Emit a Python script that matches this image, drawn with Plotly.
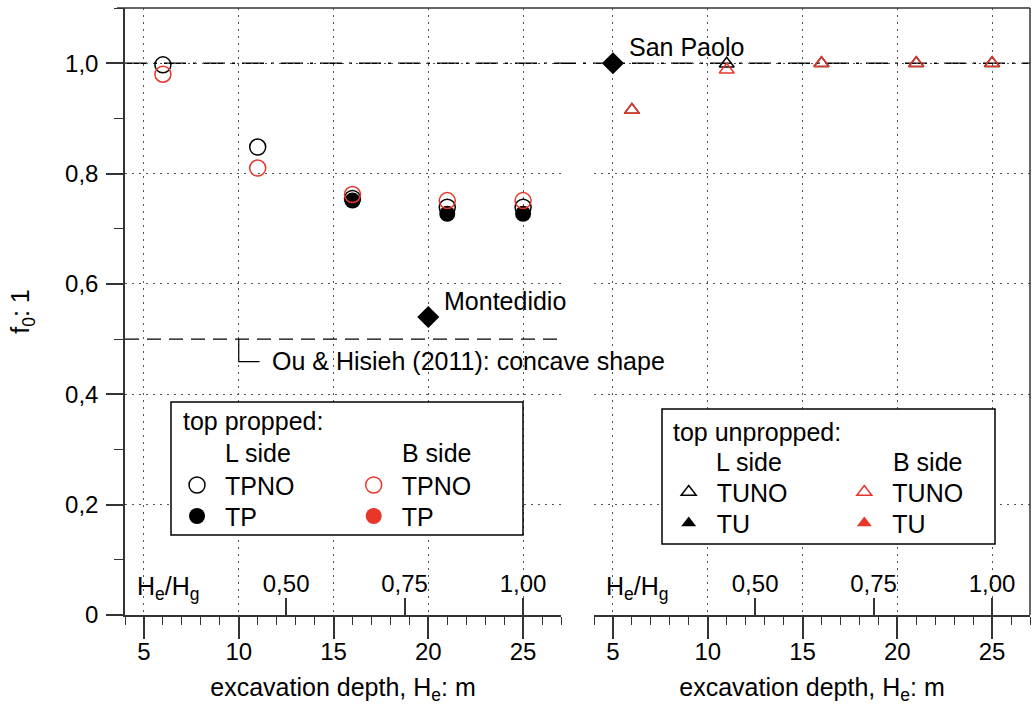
import plotly.graph_objects as go

# ---------------- data ----------------
# top propped (left panel)
depth_tp = [6, 11, 16, 21, 25]
f0_tpno_L = [0.997, 0.848, 0.755, 0.739, 0.739]
f0_tpno_B = [0.980, 0.810, 0.762, 0.751, 0.751]
depth_tp_L = [16, 21, 25]
f0_tp_L = [0.751, 0.727, 0.727]
depth_tp_B = [None]      # no visible points (legend entry only)
f0_tp_B = [None]

# top unpropped (right panel)
depth_tu = [6, 11, 16, 21, 25]
f0_tuno_L = [0.915, 0.999, 1.0, 1.0, 1.0]
f0_tuno_B = [0.915, 0.988, 1.0, 1.0, 1.0]
depth_tu_L = [None]      # no visible points (legend entry only)
f0_tu_L = [None]
depth_tu_B = [None]
f0_tu_B = [None]

# case histories
site_names = ["Montedidio", "San Paolo"]
site_depth = [20, 5]
site_f0 = [0.54, 1.0]
site_axis = ["x", "x2"]

ou_limit = 0.5
ou_label = "Ou & Hisieh (2011): concave shape"
ref_level = 1.0

Hg = 25
ratio_ticks = [0.50, 0.75, 1.00]
ratio_labels = ["0,50", "0,75", "1,00"]

y_ticks = [0, 0.2, 0.4, 0.6, 0.8, 1.0]
y_labels = ["0", "0,2", "0,4", "0,6", "0,8", "1,0"]

# ---------------- layout helpers ----------------
W, H = 1036, 708
ML, MR, MT, MB = 125, 6, 8, 93
PW, PH = W - ML - MR, H - MT - MB


def px(x):
    return (x - ML) / PW


def py(y):
    return (H - MB - y) / PH


RED = "#e8372a"
BLK = "#000000"
AX = "#333333"
FONT = "Liberation Sans, Arial, sans-serif"

fig = go.Figure()

# left panel traces
fig.add_trace(go.Scatter(x=depth_tp_L, y=f0_tp_L, mode="markers", name="TP",
                         marker=dict(symbol="circle", size=16, color=BLK),
                         xaxis="x", yaxis="y", legend="legend2", showlegend=True))
fig.add_trace(go.Scatter(x=depth_tp, y=f0_tpno_L, mode="markers", name="TPNO",
                         marker=dict(symbol="circle-open", size=16, color=BLK, line=dict(width=1.5)),
                         xaxis="x", yaxis="y", legend="legend", showlegend=True))
fig.add_trace(go.Scatter(x=depth_tp_B, y=f0_tp_B, mode="markers", name="TP",
                         marker=dict(symbol="circle", size=16, color=RED),
                         xaxis="x", yaxis="y", legend="legend4", showlegend=True))
fig.add_trace(go.Scatter(x=depth_tp, y=f0_tpno_B, mode="markers", name="TPNO",
                         marker=dict(symbol="circle-open", size=16, color=RED, line=dict(width=1.5)),
                         xaxis="x", yaxis="y", legend="legend3", showlegend=True))

# right panel traces
fig.add_trace(go.Scatter(x=depth_tu_L, y=f0_tu_L, mode="markers", name="TU",
                         marker=dict(symbol="triangle-up", size=13, color=BLK),
                         xaxis="x2", yaxis="y", legend="legend6", showlegend=True))
fig.add_trace(go.Scatter(x=depth_tu, y=f0_tuno_L, mode="markers", name="TUNO",
                         marker=dict(symbol="triangle-up-open", size=13, color=BLK, line=dict(width=1.5)),
                         xaxis="x2", yaxis="y", legend="legend5", showlegend=True))
fig.add_trace(go.Scatter(x=depth_tu_B, y=f0_tu_B, mode="markers", name="TU",
                         marker=dict(symbol="triangle-up", size=13, color=RED),
                         xaxis="x2", yaxis="y", legend="legend8", showlegend=True))
fig.add_trace(go.Scatter(x=depth_tu, y=f0_tuno_B, mode="markers", name="TUNO",
                         marker=dict(symbol="triangle-up-open", size=13, color=RED, line=dict(width=1.5)),
                         xaxis="x2", yaxis="y", legend="legend7", showlegend=True))

# case history diamonds
annotations = []
for name, d, f, ax in zip(site_names, site_depth, site_f0, site_axis):
    fig.add_trace(go.Scatter(x=[d], y=[f], mode="markers", showlegend=False,
                             marker=dict(symbol="diamond", size=17, color=BLK),
                             xaxis=ax, yaxis="y"))
    annotations.append(dict(x=d, y=f, xref=ax, yref="y", text=name, showarrow=False,
                            xanchor="left", yanchor="middle", xshift=14, yshift=16,
                            font=dict(size=25, color=BLK)))

# secondary He/Hg axes carriers (invisible)
hg_depths = [r * Hg for r in ratio_ticks]
for ax in ["x3", "x4"]:
    fig.add_trace(go.Scatter(x=hg_depths, y=[0] * len(hg_depths), mode="markers",
                             marker=dict(opacity=0), hoverinfo="skip", showlegend=False,
                             xaxis=ax, yaxis="y"))

grid = dict(showgrid=True, gridcolor="#555555", gridwidth=1, griddash="1.5px,5.5px")

xcommon = dict(range=[4, 27], tickmode="linear", tick0=0, dtick=5,
               ticks="outside", ticklen=22, tickwidth=1.5, tickcolor=AX,
               showline=True, linecolor=AX, linewidth=1.5, zeroline=False,
               tickfont=dict(size=24, color=BLK), ticklabelstandoff=-8,
               minor=dict(tickmode="linear", tick0=0, dtick=1, ticks="outside",
                          ticklen=8, tickwidth=1.2, tickcolor=AX, showgrid=False),
               title=dict(text="excavation depth, H<sub>e</sub>: m", font=dict(size=25, color=BLK), standoff=15),
               anchor="y", **grid)

# He/Hg scale: ticks pointing up from the bottom axis line, labels above them
hgcommon = dict(range=[4, 27], tickmode="array", tickvals=hg_depths, ticktext=ratio_labels,
                side="top", anchor="free", position=0,
                ticks="outside", ticklen=17, tickwidth=1.5, tickcolor=AX,
                showgrid=False, showline=False, zeroline=False, ticklabelstandoff=-4,
                tickfont=dict(size=24, color=BLK))

left_dom = [0, (561 - ML) / PW]
right_dom = [(594 - ML) / PW, 1]

shapes = [
    # frame top and right
    dict(type="line", xref="paper", yref="paper", x0=px(117), x1=1, y0=1, y1=1,
         line=dict(color=AX, width=1.5)),
    dict(type="line", xref="paper", yref="paper", x0=1, x1=1, y0=0, y1=1,
         line=dict(color=AX, width=1.5)),
    # reference level f0 = 1
    dict(type="line", xref="paper", yref="y", x0=0, x1=1, y0=ref_level, y1=ref_level,
         line=dict(color=BLK, width=1.5, dash="22px,7px,3px,7px"), layer="between"),
    # Ou & Hisieh limit
    dict(type="line", xref="x", yref="y", x0=4, x1=27, y0=ou_limit, y1=ou_limit,
         line=dict(color=BLK, width=1.2, dash="14px,8px"), layer="between"),
    dict(type="path", xref="x", yref="y",
         path=f"M 10 {ou_limit} L 10 0.459 L 11.1 0.459",
         line=dict(color=BLK, width=1.2), layer="between"),
    # legend boxes
    dict(type="rect", xref="paper", yref="paper", x0=px(171), x1=px(523), y0=py(535), y1=py(402),
         fillcolor="white", line=dict(color=BLK, width=1.5), layer="above"),
    dict(type="rect", xref="paper", yref="paper", x0=px(662), x1=px(995), y0=py(544), y1=py(409),
         fillcolor="white", line=dict(color=BLK, width=1.5), layer="above"),
]

txt = dict(size=25, color=BLK)
annotations += [
    dict(x=11.63, y=0.461, xref="x", yref="y", text=ou_label, showarrow=False,
         xanchor="left", yanchor="middle", font=txt),
    dict(x=px(168), y=py(588), xref="paper", yref="paper", text="H<sub>e</sub>/H<sub>g</sub>",
         showarrow=False, xanchor="center", yanchor="middle", font=dict(size=25, color=BLK)),
    dict(x=px(637), y=py(588), xref="paper", yref="paper", text="H<sub>e</sub>/H<sub>g</sub>",
         showarrow=False, xanchor="center", yanchor="middle", font=dict(size=25, color=BLK)),
    dict(x=px(181), y=py(421), xref="paper", yref="paper", text="top propped:",
         showarrow=False, xanchor="left", yanchor="middle", font=txt),
    dict(x=px(223), y=py(453), xref="paper", yref="paper", text="L side",
         showarrow=False, xanchor="left", yanchor="middle", font=txt),
    dict(x=px(400), y=py(453), xref="paper", yref="paper", text="B side",
         showarrow=False, xanchor="left", yanchor="middle", font=txt),
    dict(x=px(671), y=py(432), xref="paper", yref="paper", text="top unpropped:",
         showarrow=False, xanchor="left", yanchor="middle", font=txt),
    dict(x=px(714), y=py(462), xref="paper", yref="paper", text="L side",
         showarrow=False, xanchor="left", yanchor="middle", font=txt),
    dict(x=px(891), y=py(462), xref="paper", yref="paper", text="B side",
         showarrow=False, xanchor="left", yanchor="middle", font=txt),
]


def leg(left, center):
    return dict(x=px(left), y=py(center - 22.75), xanchor="left", yanchor="top",
                bgcolor="rgba(0,0,0,0)", borderwidth=0, itemwidth=46,
                font=dict(size=25, color=BLK), visible=True)


fig.update_layout(
    width=W, height=H,
    margin=dict(l=ML, r=MR, t=MT, b=MB),
    paper_bgcolor="white", plot_bgcolor="white",
    font=dict(family=FONT, color=BLK, size=24),
    separators=",.",
    showlegend=True,
    xaxis=dict(domain=left_dom, **xcommon),
    xaxis2=dict(domain=right_dom, **xcommon),
    xaxis3=dict(overlaying="x", **hgcommon),
    xaxis4=dict(overlaying="x2", **hgcommon),
    yaxis=dict(domain=[0, 1], range=[0, 1.1], tickmode="array", tickvals=y_ticks, ticktext=y_labels,
               ticks="outside", ticklen=17, tickwidth=1.5, tickcolor=AX,
               showline=True, linecolor=AX, linewidth=1.5, zeroline=False,
               tickfont=dict(size=24, color=BLK), ticklabelstandoff=3,
               minor=dict(tickmode="linear", tick0=0, dtick=0.1, ticks="outside",
                          ticklen=9, tickwidth=1.2, tickcolor=AX, showgrid=False),
               title=dict(text="f<sub>0</sub>: 1", font=dict(size=25, color=BLK), standoff=28),
               anchor="x", **grid),
    legend=leg(169, 485),
    legend2=leg(169, 516),
    legend3=leg(345.7, 485),
    legend4=leg(345.7, 516),
    legend5=leg(660.7, 492),
    legend6=leg(660.7, 523),
    legend7=leg(836.3, 492),
    legend8=leg(836.3, 523),
    shapes=shapes,
    annotations=annotations,
    hovermode=False,
)

fig.write_html("out.html")
